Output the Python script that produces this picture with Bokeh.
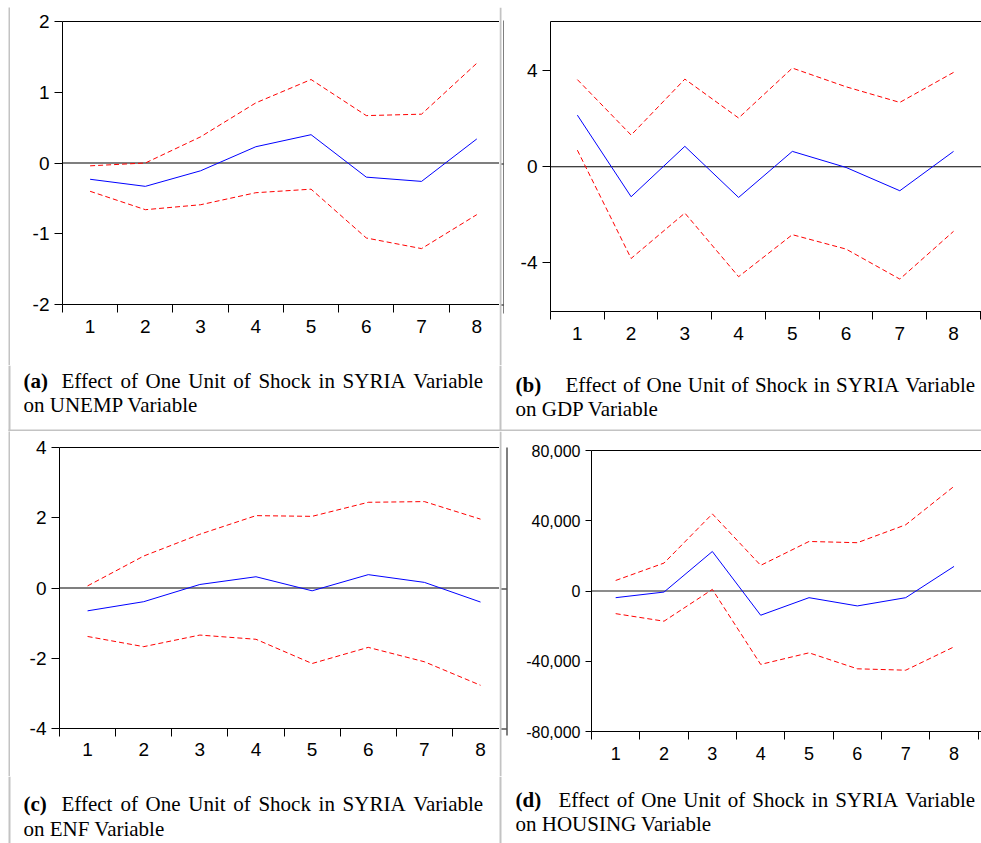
from bokeh.plotting import figure
from bokeh.layouts import row, column
from bokeh.models import (Range1d, FixedTicker, LinearAxis, Span, NumeralTickFormatter,
                          PrintfTickFormatter, BoxAnnotation, Spacer)
from bokeh.embed import file_html
from bokeh.resources import INLINE
from bokeh.core.properties import value

# ---------------- data ----------------
periods = [1, 2, 3, 4, 5, 6, 7, 8]
period_bounds = [0.5, 1.5, 2.5, 3.5, 4.5, 5.5, 6.5, 7.5, 8.5]

unemp_resp = [-0.23, -0.33, -0.11, 0.23, 0.40, -0.20, -0.26, 0.34]
unemp_upper = [-0.04, 0.00, 0.37, 0.85, 1.18, 0.67, 0.69, 1.41]
unemp_lower = [-0.40, -0.66, -0.59, -0.42, -0.37, -1.06, -1.21, -0.73]
unemp_yticks = [-2, -1, 0, 1, 2]

gdp_resp = [2.15, -1.25, 0.85, -1.28, 0.64, -0.03, -1.00, 0.64]
gdp_upper = [3.63, 1.32, 3.65, 2.03, 4.11, 3.33, 2.68, 3.93]
gdp_lower = [0.69, -3.82, -1.93, -4.58, -2.83, -3.43, -4.68, -2.69]
gdp_yticks = [-4, 0, 4]

enf_resp = [-0.65, -0.39, 0.10, 0.32, -0.08, 0.38, 0.16, -0.40]
enf_upper = [0.06, 0.91, 1.53, 2.06, 2.04, 2.44, 2.46, 1.96]
enf_lower = [-1.38, -1.67, -1.34, -1.46, -2.15, -1.69, -2.10, -2.77]
enf_yticks = [-4, -2, 0, 2, 4]

housing_resp = [-3800, -600, 22500, -13800, -3800, -8500, -3800, 14000]
housing_upper = [6000, 15900, 43900, 14600, 28200, 27500, 37700, 59600]
housing_lower = [-12900, -17200, 900, -41800, -35200, -44300, -45100, -31800]
housing_yticks = [-80000, -40000, 0, 40000, 80000]

cap_labels = ["(a)", "(b)", "(c)", "(d)"]
cap_line1 = "Effect of One Unit of Shock in SYRIA Variable"
cap_line2 = ["on UNEMP Variable", "on GDP Variable", "on ENF Variable", "on HOUSING Variable"]

# ---------------- style ----------------
GRAY = "#c3c3c3"
RED = "#ff0000"
BLUE = "#0000ff"
SANS = "Liberation Sans"
SERIF = "Liberation Serif"
CAP_SIZE = 21
PAGE_W = 981

# Times / Liberation Serif advance widths (em), used to justify caption line 1
TIMES_W = {"E": .611, "f": .333, "e": .444, "c": .444, "t": .278, "o": .5, "O": .722,
           "n": .5, "U": .722, "i": .278, "S": .556, "h": .5, "k": .5, "Y": .722,
           "R": .667, "I": .333, "A": .722, "V": .722, "a": .444, "r": .333,
           "b": .5, "l": .278}


def word_width(w):
    return sum(TIMES_W.get(ch, .5) for ch in w) * CAP_SIZE


def box(p, left, right, top, bottom, color=GRAY):
    p.add_layout(BoxAnnotation(left=left, right=right, top=top, bottom=bottom,
                               fill_color=color, fill_alpha=1.0, line_color=None,
                               level="underlay"))


def pixel_fig(width, height):
    return figure(width=width, height=height,
                  x_range=Range1d(0, width), y_range=Range1d(height, 0),
                  x_axis_type=None, y_axis_type=None,
                  toolbar_location=None, output_backend="svg",
                  min_border=0, outline_line_color=None,
                  background_fill_color="white", border_fill_color="white")


def add_caption(p, label, line2, lx, tx, right, y1, y2):
    p.text(x=[lx], y=[y1], text=[label], text_font=value(SERIF),
           text_font_style="bold", text_font_size=f"{CAP_SIZE}px",
           text_baseline="alphabetic", text_align="left", text_color="black")
    words = cap_line1.split(" ")
    total = sum(word_width(w) for w in words)
    gap = (right - tx - total) / (len(words) - 1)
    xs = []
    x = tx
    for w in words:
        xs.append(x)
        x += word_width(w) + gap
    p.text(x=xs, y=[y1] * len(words), text=words, text_font=value(SERIF),
           text_font_size=f"{CAP_SIZE}px", text_baseline="alphabetic",
           text_align="left", text_color="black")
    p.text(x=[lx], y=[y2], text=[line2], text_font=value(SERIF),
           text_font_size=f"{CAP_SIZE}px", text_baseline="alphabetic",
           text_align="left", text_color="black")


def make_chart(width, height, left, top, bottom, x_end, y_rng, yticks,
               resp, upper, lower, zero_color, zero_width,
               ylab_size, xlab_size, x_standoff, y_tick_len, yfmt):
    p = figure(width=width, height=height,
               x_range=Range1d(0.5, x_end), y_range=Range1d(*y_rng),
               x_axis_type=None, y_axis_type=None,
               toolbar_location=None, output_backend="svg",
               min_border_left=left, min_border_right=0,
               min_border_top=top, min_border_bottom=bottom,
               outline_line_color=None,
               background_fill_color="white", border_fill_color="white")

    yax = LinearAxis(ticker=FixedTicker(ticks=yticks, minor_ticks=[]),
                     formatter=yfmt,
                     major_tick_out=y_tick_len, major_tick_in=0,
                     minor_tick_out=0, minor_tick_in=0,
                     major_label_standoff=5,
                     major_label_text_font=SANS,
                     major_label_text_font_size=ylab_size,
                     major_label_text_color="black",
                     axis_line_color="black", major_tick_line_color="black")
    p.add_layout(yax, "left")

    xax = LinearAxis(ticker=FixedTicker(ticks=periods, minor_ticks=period_bounds),
                     major_tick_out=0, major_tick_in=0,
                     minor_tick_out=8, minor_tick_in=0,
                     major_label_standoff=x_standoff,
                     major_label_text_font=SANS,
                     major_label_text_font_size=xlab_size,
                     major_label_text_color="black",
                     axis_line_color="black", minor_tick_line_color="black")
    p.add_layout(xax, "below")

    tax = LinearAxis(ticker=FixedTicker(ticks=[], minor_ticks=[]),
                     major_tick_out=0, major_tick_in=0,
                     minor_tick_out=0, minor_tick_in=0,
                     major_label_standoff=0,
                     major_label_text_font_size="0px",
                     axis_line_color="black")
    p.add_layout(tax, "above")

    p.add_layout(Span(location=0, dimension="width", line_color=zero_color,
                      line_width=zero_width, level="underlay"))

    p.line(periods, upper, line_color=RED, line_dash="5 3", line_width=1)
    p.line(periods, lower, line_color=RED, line_dash="5 3", line_width=1)
    p.line(periods, resp, line_color=BLUE, line_width=1)
    return p


def gray(w, h):
    return figure(width=w, height=h, x_axis_type=None, y_axis_type=None,
                  toolbar_location=None, output_backend="svg", min_border=0,
                  outline_line_color=None,
                  background_fill_color=GRAY, border_fill_color=GRAY)


def divider(width, height, edge_x, edge_top, edge_bottom, tick_ys):
    # gray cell border plus the cropped right frame edge of the left chart image
    d = pixel_fig(width, height)
    box(d, 0, 2, 0, height)
    box(d, edge_x, edge_x + 1, edge_top, edge_bottom, "black")
    for ty in tick_ys:
        box(d, 2, edge_x, ty, ty + 1, "black")
    return d


# ---- charts ----
figA = make_chart(489, 358, 52, 14, 61, 8.411, (-2, 2), unemp_yticks,
                  unemp_resp, unemp_upper, unemp_lower, "#555555", 1.6,
                  "19px", "19px", 7, 8, PrintfTickFormatter(format="%d"))
figB = make_chart(477, 358, 46, 14, 54, 8.52, (-6.03, 6.05), gdp_yticks,
                  gdp_resp, gdp_upper, gdp_lower, "black", 1.2,
                  "19px", "19px", 7, 8, PrintfTickFormatter(format="%d"))
figC = make_chart(489, 345, 49, 16, 48, 8.338, (-4, 4), enf_yticks,
                  enf_resp, enf_upper, enf_lower, "black", 1.2,
                  "19px", "19px", 6, 8, PrintfTickFormatter(format="%d"))
figD = make_chart(473, 345, 83, 19, 45, 8.568, (-80000, 80000), housing_yticks,
                  housing_resp, housing_upper, housing_lower, "#666666", 1.6,
                  "16px", "18px", 7, 6, NumeralTickFormatter(format="0,0"))

# ---- top border strip ----
top_strip = pixel_fig(PAGE_W, 7)
box(top_strip, 8, PAGE_W, 5, 7)

# ---- caption row 1 (with cell borders) ----
cap1 = pixel_fig(PAGE_W, 66)
box(cap1, 8, 10, 0, 66)
box(cap1, 499, 501, 0, 66)
box(cap1, 8, PAGE_W, 64, 66)
add_caption(cap1, cap_labels[0], cap_line2[0], 23, 61, 485, 15, 39)
add_caption(cap1, cap_labels[1], cap_line2[1], 515, 565, 977, 19, 43)

# ---- caption row 2 ----
cap2 = pixel_fig(PAGE_W, 67)
box(cap2, 8, 10, 0, 67)
box(cap2, 499, 501, 0, 67)
add_caption(cap2, cap_labels[2], cap_line2[2], 23, 61, 485, 27, 52)
add_caption(cap2, cap_labels[3], cap_line2[3], 515, 558, 977, 23, 47)

div1 = divider(5, 358, 4, 13, 306, [156, 297])
div2 = divider(9, 345, 7, 16, 304, [157, 297])

row1 = row(Spacer(width=8, height=358), column(gray(2, 358)), column(figA),
           column(div1), column(figB))
row2 = row(Spacer(width=8, height=345), column(gray(2, 345)), column(figC),
           column(div2), column(figD))
layout = column(column(top_strip), row1, column(cap1), row2, column(cap2))

open("out.html", "w").write(file_html(layout, INLINE))
